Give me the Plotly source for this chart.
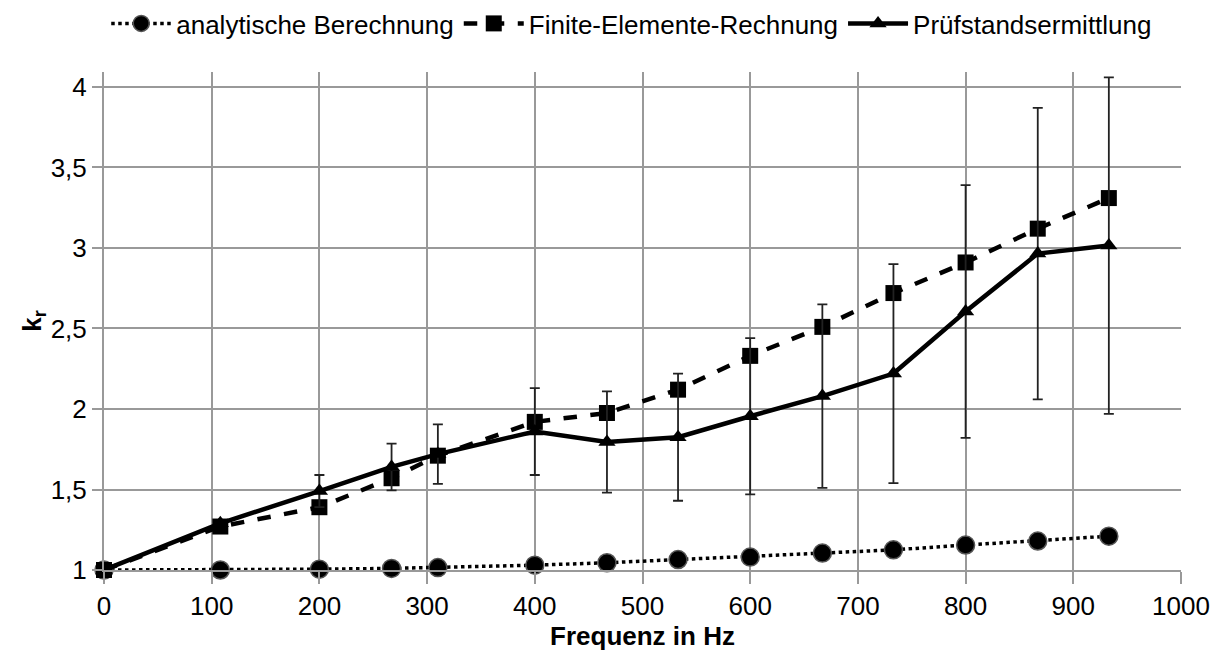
import plotly.graph_objects as go

freq = [0, 108, 200, 267, 310, 400, 467, 533, 600, 667, 733, 800, 867, 933]
analytisch = [1.0, 1.0, 1.005, 1.01, 1.015, 1.03, 1.045, 1.065, 1.08, 1.105, 1.125, 1.155, 1.18, 1.21]
fem = [1.0, 1.27, 1.39, 1.57, 1.71, 1.92, 1.975, 2.12, 2.33, 2.51, 2.72, 2.91, 3.12, 3.31]
pruef = [1.0, 1.29, 1.49, 1.64, 1.72, 1.86, 1.795, 1.825, 1.955, 2.08, 2.22, 2.605, 2.965, 3.015]
pruef_err = [0, 0, 0.10, 0.145, 0.185, 0.27, 0.315, 0.395, 0.485, 0.57, 0.68, 0.785, 0.905, 1.045]

FONT = "Liberation Sans, Arial, sans-serif"

fig = go.Figure()
fig.add_trace(go.Scatter(
    x=freq, y=analytisch, name="analytische Berechnung", mode="lines+markers",
    line=dict(color="black", width=3.5, dash="dot"),
    marker=dict(symbol="circle", size=18, color="black", line=dict(color="#555", width=1.5)),
    cliponaxis=False))
fig.add_trace(go.Scatter(
    x=freq, y=fem, name="Finite-Elemente-Rechnung", mode="lines+markers",
    line=dict(color="black", width=4.5, dash="dash"),
    marker=dict(symbol="square", size=16, color="black"),
    cliponaxis=False))
fig.add_trace(go.Scatter(
    x=freq, y=pruef, name="Prüfstandsermittlung", mode="lines+markers",
    line=dict(color="black", width=4.5),
    marker=dict(symbol="triangle-up", size=15, color="black"),
    error_y=dict(type="data", array=pruef_err, visible=True, color="#222", thickness=1.8, width=5),
    cliponaxis=False))

fig.update_layout(
    width=1219, height=653,
    margin=dict(l=104, r=38, t=72, b=83),
    paper_bgcolor="white", plot_bgcolor="white",
    font=dict(family=FONT, size=26, color="black"),
    showlegend=True,
    legend=dict(orientation="h", x=0.49, xanchor="center", y=1.0, yref="container", yanchor="top",
                font=dict(size=26), itemwidth=60, traceorder="normal"),
    xaxis=dict(range=[0, 1000], dtick=100, tick0=0, showgrid=True, gridcolor="#999", gridwidth=2,
               showline=True, linecolor="#999", linewidth=2, ticks="outside", ticklen=12,
               tickcolor="#999", tickwidth=2, zeroline=False, tickfont=dict(size=26),
               automargin=False,
               title=dict(text="<b>Frequenz in Hz</b>", font=dict(size=26), standoff=4)),
    yaxis=dict(range=[1, 4.093], tickvals=[1, 1.5, 2, 2.5, 3, 3.5, 4],
               ticktext=["1", "1,5", "2", "2,5", "3", "3,5", "4"],
               showgrid=True, gridcolor="#999", gridwidth=2,
               showline=True, linecolor="#999", linewidth=2, ticks="outside", ticklen=10,
               tickcolor="#999", tickwidth=2, zeroline=False, tickfont=dict(size=26),
               automargin=False,
               title=dict(text="<b>k<sub>r</sub></b>", font=dict(size=26), standoff=2)),
)

fig.write_html("out.html")
